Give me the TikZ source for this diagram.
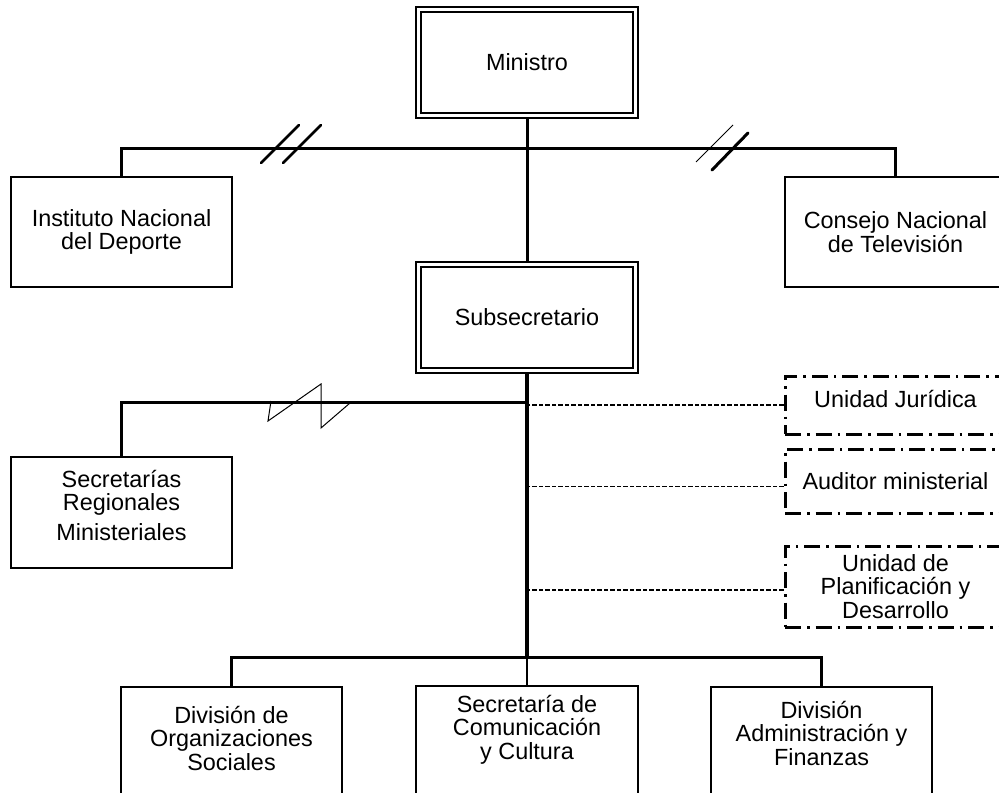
\documentclass[tikz,border=0pt]{standalone}
\usepackage{fontspec}
\setmainfont{Liberation Sans}
\usetikzlibrary{backgrounds,calc}
\newcommand\orgfont{\fontsize{23.4bp}{23.5bp}\selectfont}
\begin{document}
\begin{tikzpicture}[x=1bp,y=-1bp,
  lab/.style={align=center,inner sep=0pt,font=\orgfont},
  orgbox/.style={draw,fill=white,line width=2bp,inner sep=0pt,align=center,font=\orgfont,minimum width=221bp,minimum height=110bp},
  dblbox/.style={draw,fill=white,line width=2bp,double=white,double distance=3.2bp,inner sep=0pt,align=center,font=\orgfont,minimum width=216.8bp,minimum height=105.8bp},
  dashdotbox/.style={draw,fill=white,line width=3bp,dash pattern=on 16bp off 6bp on 2.5bp off 6bp,inner sep=0pt,align=center,font=\orgfont,minimum width=221bp},
  boldline/.style={line width=3bp},
  dashconn/.style={line width=1.4bp,dash pattern=on 4.5bp off 2bp}]
\path[use as bounding box] (0,0) rectangle (999,793);
\clip (0,0) rectangle (999,793);

% boxes
\node[dblbox] (min) at (527,62.5) {Ministro};
\node[dblbox] (sub) at (527,317.5) {Subsecretario};
\node[orgbox] (ins) at (121.5,232) {Instituto Nacional\\del Deporte};
\node[orgbox] (con) at (895.5,232) {Consejo Nacional\\de Televisión};
\node[orgbox,minimum height=111bp] (sec) at (121.5,512.5) {};
\node[lab] (sectxt) at (121.5,505.5) {Secretarías\\Regionales\\[6.5bp]Ministeriales};
\node[dashdotbox,minimum height=58bp] (jur) at (895.5,405) {};
\node[lab] (jurtxt) at (895.5,399) {Unidad Jurídica};
\node[dashdotbox,minimum height=64bp] (aud) at (895.5,481) {Auditor ministerial};
\node[dashdotbox,minimum height=81bp] (upd) at (895.5,586.5) {Unidad de\\Planificación y\\Desarrollo};
\node[orgbox] (dos) at (231.5,742) {};
\node[lab] (dostxt) at (231.5,738.3) {División de\\Organizaciones\\Sociales};
\node[orgbox,minimum width=222bp] (scc) at (527,741) {};
\node[lab] (scctxt) at (527,729.5) {Secretaría de\\Comunicación\\y Cultura};
\node[orgbox] (daf) at (821.5,742) {};
\node[lab] (daftxt) at (821.5,733) {División\\Administración y\\Finanzas};

% connectors
\begin{scope}[on background layer]
  \coordinate (top) at (527,148);
  \coordinate (mid) at (527,402);
  \coordinate (bus) at (527,657.5);
  \coordinate (audc) at ($(aud.west)+(0,5.7)$);
  \coordinate (updc) at ($(upd.west)+(0,3.5)$);
  \draw[dashconn] (jur.west) -- (jur.west -| sub.south);
  \draw[dashconn] (audc) -- (audc -| sub.south);
  \draw[dashconn] (updc) -- (updc -| sub.south);
  \draw[boldline] (min) -- (sub);
  \draw[boldline] (ins) |- (top) -| (con);
  \draw[boldline] (sec) |- (mid);
  \draw[line width=4bp] (sub) -- (bus);
  \draw[boldline] (dos) |- (bus) -| (daf);
  \draw[line width=2bp] (bus) -- (scc);
\end{scope}

% break marks on the lines
\draw[line width=2.5bp,line cap=round] (261,163) -- (299,125) (283,163) -- (321,125);
\draw[line width=0.9bp] (696,162) -- (733,125);
\draw[line width=3bp,line cap=round] (712,170) -- (748,133);
\draw[line width=1bp] (271,401) -- (268,421) -- (321,384) -- (321,428) -- (350,403);
\end{tikzpicture}
\end{document}
